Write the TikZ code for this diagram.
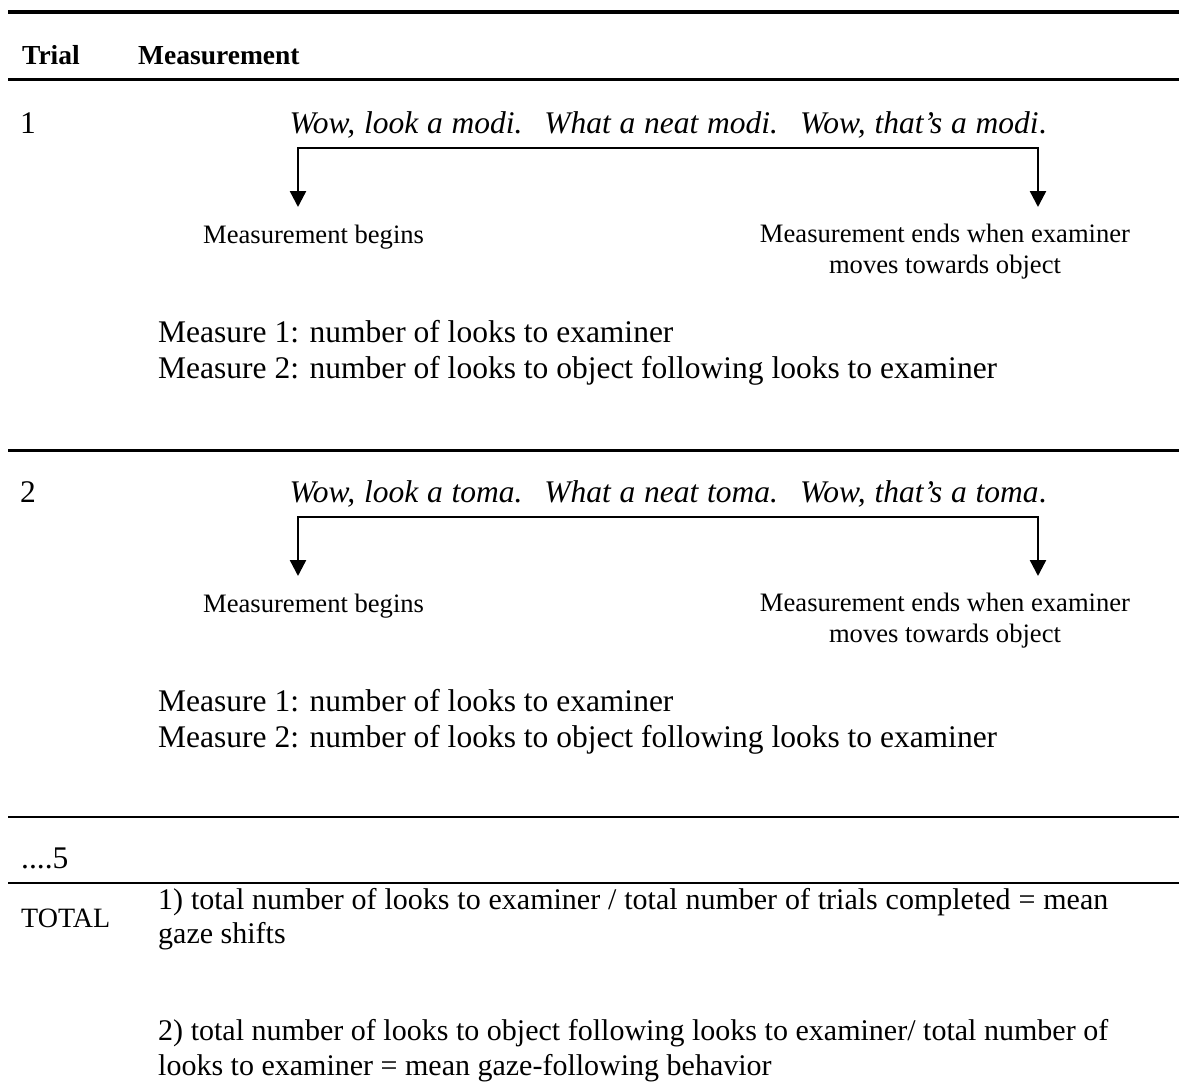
\documentclass[tikz,border=0pt]{standalone}
\usepackage{fontspec}
\setmainfont{Liberation Serif}
\usetikzlibrary{arrows.meta}
\tikzset{
  body/.style={anchor=base west, inner sep=0pt, font=\fontsize{31.5}{36}\selectfont},
  tbody/.style={anchor=base west, inner sep=0pt, font=\fontsize{30}{34.5}\selectfont},
  sent/.style={anchor=base, inner sep=0pt, font=\fontsize{31.5}{36}\selectfont\itshape},
  small/.style={anchor=base west, inner sep=0pt, font=\fontsize{26.6}{30.6}\selectfont},
  smallc/.style={anchor=base, inner sep=0pt, font=\fontsize{26.6}{30.6}\selectfont},
  totstyle/.style={anchor=base west, inner sep=0pt, font=\fontsize{28}{32}\selectfont},
  head/.style={anchor=base west, inner sep=0pt, font=\fontsize{27.5}{31}\selectfont\bfseries},
  rulethick/.style={line width=4pt},
  rulemid/.style={line width=3.5pt},
  rulethin/.style={line width=2.5pt},
  conn/.style={line width=2.4pt, -{Triangle[length=16pt,width=16pt]}},
}
\begin{document}
\begin{tikzpicture}[x=1pt,y=-1pt]
\useasboundingbox (0,0) rectangle (1179,1092);
\fill[white] (0,0) rectangle (1179,1092);

% header
\draw[rulethick] (8,12) -- (1179,12);
\node[head] (trialh) at (22,64) {Trial};
\node[head] (meash) at (138,64) {Measurement};
\draw[rulemid] (8,79.5) -- (1179,79.5);

% trial 1
\node[body] (t1) at (20,133) {1};
\node[sent] (s1) at (668,133) {\makebox[757pt][s]{Wow, look a modi. \ What a neat modi. \ Wow, that’s a modi\upshape.}};
\coordinate (b1L) at (298,148);
\coordinate (b1R) at (1038,148);
\coordinate (a1L) at (298,207);
\coordinate (a1R) at (1038,207);
\draw[conn] (b1R) -- (b1L) -- (a1L);
\draw[conn] (b1L) -- (b1R) -- (a1R);
\node[small] (mb1) at (203,243) {Measurement begins};
\node[smallc] (me1) at (945,242) {Measurement ends when examiner};
\node[smallc] (me1b) at (945,273) {moves towards object};
\node[body] (q11) at (158,342) {Measure 1: number of looks to examiner};
\node[body] (q12) at (158,378.5) {Measure 2: number of looks to object following looks to examiner};

\draw[rulethin] (8,450.5) -- (1179,450.5);

% trial 2
\node[body] (t2) at (20,502) {2};
\node[sent] (s2) at (668,502) {\makebox[757pt][s]{Wow, look a toma. \ What a neat toma. \ Wow, that’s a toma\upshape.}};
\coordinate (b2L) at (298,517);
\coordinate (b2R) at (1038,517);
\coordinate (a2L) at (298,576);
\coordinate (a2R) at (1038,576);
\draw[conn] (b2R) -- (b2L) -- (a2L);
\draw[conn] (b2L) -- (b2R) -- (a2R);
\node[small] (mb2) at (203,612) {Measurement begins};
\node[smallc] (me2) at (945,611) {Measurement ends when examiner};
\node[smallc] (me2b) at (945,642) {moves towards object};
\node[body] (q21) at (158,711) {Measure 1: number of looks to examiner};
\node[body] (q22) at (158,747.5) {Measure 2: number of looks to object following looks to examiner};

\draw[rulethin] (8,817) -- (1179,817);
\node[body] (t5) at (21,868) {....5};
\draw[rulethin] (8,883) -- (1179,883);

% total
\node[totstyle] (tot) at (21,927) {TOTAL};
\node[tbody] (r1a) at (158,909) {\makebox[950pt][s]{1) total number of looks to examiner / total number of trials completed = mean}};
\node[tbody] (r1b) at (158,943) {gaze shifts};
\node[tbody] (r2a) at (158,1040) {\makebox[950pt][s]{2) total number of looks to object following looks to examiner/ total number of}};
\node[tbody] (r2b) at (158,1075) {looks to examiner = mean gaze-following behavior};
\end{tikzpicture}
\end{document}
